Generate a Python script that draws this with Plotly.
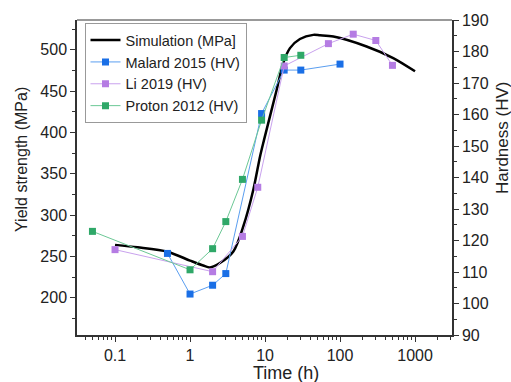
import plotly.graph_objects as go

# Simulation (MPa) - left axis
sim_t = [0.1, 0.2, 0.5, 1.0, 1.5, 1.85, 2.5, 3.78, 5.13, 6.98, 8.58, 9.7, 14.3, 17.5, 21.5, 29.2, 44, 54, 81.5, 226, 512, 1000]
sim_y = [264, 261, 255.7, 245, 239, 236.7, 242, 256, 286.3, 330.6, 371, 391, 451.6, 484, 502, 513, 518, 517.5, 516, 504, 490, 474]

# Malard 2015 (HV) - right axis
malard_t = [0.5, 1, 2, 3, 9, 18, 30, 100]
malard_hv = [115.9, 103.0, 105.8, 109.5, 160.3, 174.1, 174.1, 176.0]

# Li 2019 (HV)
li_t = [0.1, 2, 5, 8, 18, 70, 150, 300, 500]
li_hv = [117.1, 110.1, 121.3, 136.9, 175.4, 182.5, 185.5, 183.5, 175.6]

# Proton 2012 (HV)
proton_t = [0.05, 1, 2, 3, 5, 9, 18, 30]
proton_hv = [122.9, 110.7, 117.4, 126.0, 139.4, 158.2, 178.1, 178.8]

x_ticks = [0.1, 1, 10, 100, 1000]
x_ticktext = ["0.1", "1", "10", "100", "1000"]
y_ticks = [200, 250, 300, 350, 400, 450, 500]
y2_ticks = [90, 100, 110, 120, 130, 140, 150, 160, 170, 180, 190]

font = "Liberation Sans, Arial, sans-serif"
axcol = "#333333"
txtcol = "#222222"

fig = go.Figure()
fig.add_trace(go.Scatter(x=sim_t, y=sim_y, mode="lines", name="Simulation (MPa]",
                         line=dict(color="black", width=2.5, shape="spline", smoothing=0.8)))
fig.add_trace(go.Scatter(x=malard_t, y=malard_hv, mode="lines+markers", name="Malard 2015 (HV)", yaxis="y2",
                         line=dict(color="#5a9ef0", width=1),
                         marker=dict(symbol="square", size=7, color="#1a6fe6")))
fig.add_trace(go.Scatter(x=li_t, y=li_hv, mode="lines+markers", name="Li 2019 (HV)", yaxis="y2",
                         line=dict(color="#c9a2ee", width=1),
                         marker=dict(symbol="square", size=7, color="#b57ce3")))
fig.add_trace(go.Scatter(x=proton_t, y=proton_hv, mode="lines+markers", name="Proton 2012 (HV)", yaxis="y2",
                         line=dict(color="#6cc896", width=1),
                         marker=dict(symbol="square", size=7, color="#2fa868")))

fig.update_layout(
    width=511, height=382,
    margin=dict(l=77, r=59, t=20, b=47, autoexpand=False),
    plot_bgcolor="white", paper_bgcolor="white",
    font=dict(family=font, size=16, color=txtcol),
    showlegend=True,
    legend=dict(x=0.02, y=0.99, xanchor="left", yanchor="top",
                bordercolor="#999999", borderwidth=1, bgcolor="white",
                font=dict(size=14.5, family=font), tracegroupgap=0, itemwidth=30),
    xaxis=dict(type="log", range=[-1.507, 3.493], tickvals=x_ticks, ticktext=x_ticktext, automargin=False,
               ticks="outside", ticklen=5, tickcolor=axcol, showline=True, linecolor=axcol, linewidth=1.5,
               mirror=False, showgrid=False, zeroline=False,
               minor=dict(ticks="outside", ticklen=3, tickcolor=axcol, dtick="D1", showgrid=False)),
    yaxis=dict(range=[155, 536], tickvals=y_ticks, ticks="outside", ticklen=5, tickcolor=axcol, automargin=False,
               showline=True, linecolor=axcol, linewidth=1.5, showgrid=False, zeroline=False,
               minor=dict(ticks="outside", ticklen=3, tickcolor=axcol, dtick=25, showgrid=False)),
    yaxis2=dict(range=[90, 190], tickvals=y2_ticks, overlaying="y", side="right", ticks="outside", automargin=False,
                ticklen=5, tickcolor=axcol, showline=True, linecolor=axcol, linewidth=1.5,
                showgrid=False, zeroline=False,
                minor=dict(ticks="outside", ticklen=3, tickcolor=axcol, dtick=5, showgrid=False)),
)
# axis titles as annotations
fig.add_annotation(text="Time (h)", xref="paper", yref="paper", x=0.557, y=0, xanchor="center",
                   yanchor="middle", yshift=-38, showarrow=False, font=dict(size=18, family=font, color=txtcol))
fig.add_annotation(text="Yield strength (MPa)", xref="paper", yref="paper", x=0, y=0.5556, xanchor="center",
                   yanchor="middle", xshift=-55, textangle=-90, showarrow=False,
                   font=dict(size=16, family=font, color=txtcol))
fig.add_annotation(text="Hardness (HV)", xref="paper", yref="paper", x=1, y=0.6254, xanchor="center",
                   yanchor="middle", xshift=51, textangle=-90, showarrow=False,
                   font=dict(size=17, family=font, color=txtcol))
# top border line
fig.add_shape(type="line", xref="paper", yref="paper", x0=0, x1=1, y0=1, y1=1,
              line=dict(color="#777777", width=1.5))

fig.write_html("out.html")
